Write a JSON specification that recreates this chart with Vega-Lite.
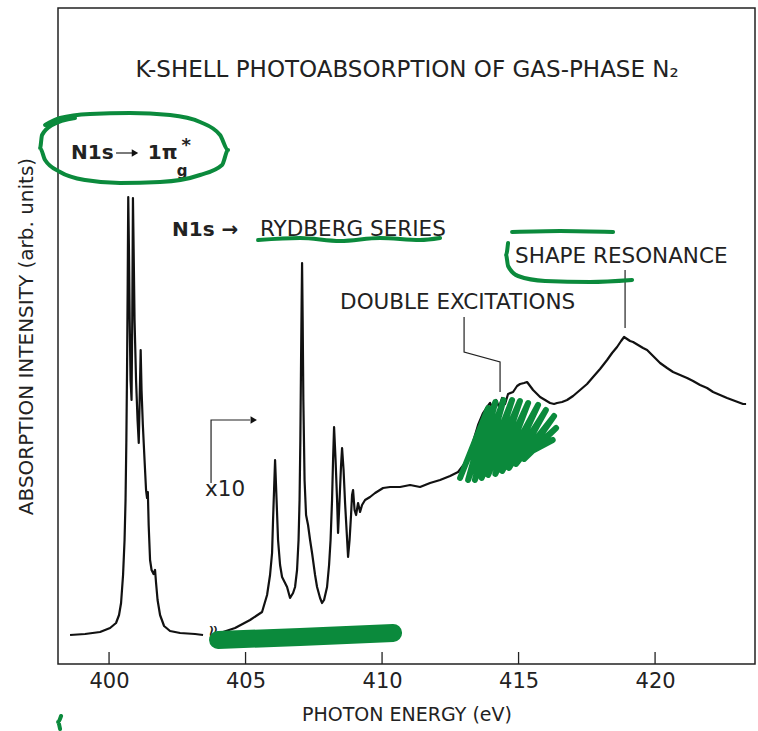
{
  "$schema": "https://vega.github.io/schema/vega-lite/v6.json",
  "width": 697,
  "height": 656,
  "autosize": {"type": "none"},
  "padding": {"left": 58, "top": 8, "right": 3, "bottom": 67},
  "background": "white",
  "config": {"view": {"stroke": "#222", "strokeWidth": 1.5}, "font": "DejaVu Sans"},
  "datasets": {
    "spec": [
      {"s":1,"e":398.571,"i":29},{"s":1,"e":399.121,"i":30},{"s":1,"e":399.670,"i":32},{"s":1,"e":400.037,"i":36},
      {"s":1,"e":400.256,"i":41},{"s":1,"e":400.366,"i":49},{"s":1,"e":400.440,"i":61},{"s":1,"e":400.513,"i":89},
      {"s":1,"e":400.568,"i":124},{"s":1,"e":400.604,"i":164},{"s":1,"e":400.634,"i":224},{"s":1,"e":400.659,"i":294},
      {"s":1,"e":400.681,"i":374},{"s":1,"e":400.703,"i":467},{"s":1,"e":400.729,"i":414},{"s":1,"e":400.755,"i":344},
      {"s":1,"e":400.788,"i":284},{"s":1,"e":400.824,"i":264},{"s":1,"e":400.850,"i":344},{"s":1,"e":400.875,"i":466},
      {"s":1,"e":400.901,"i":414},{"s":1,"e":400.934,"i":344},{"s":1,"e":400.989,"i":284},{"s":1,"e":401.044,"i":244},
      {"s":1,"e":401.088,"i":221},{"s":1,"e":401.121,"i":264},{"s":1,"e":401.158,"i":314},{"s":1,"e":401.190,"i":274},
      {"s":1,"e":401.238,"i":239},{"s":1,"e":401.300,"i":204},{"s":1,"e":401.355,"i":174},{"s":1,"e":401.392,"i":166},
      {"s":1,"e":401.421,"i":172},{"s":1,"e":401.451,"i":139},{"s":1,"e":401.502,"i":104},{"s":1,"e":401.557,"i":94},
      {"s":1,"e":401.630,"i":90},{"s":1,"e":401.685,"i":94},{"s":1,"e":401.722,"i":81},{"s":1,"e":401.777,"i":64},
      {"s":1,"e":401.868,"i":49},{"s":1,"e":402.015,"i":38},{"s":1,"e":402.234,"i":33},{"s":1,"e":402.601,"i":31},
      {"s":1,"e":403.150,"i":30},{"s":1,"e":403.443,"i":29},
      {"s":2,"e":404.176,"i":32},{"s":2,"e":404.615,"i":36},{"s":2,"e":405.165,"i":44},{"s":2,"e":405.604,"i":52},
      {"s":2,"e":405.788,"i":69},{"s":2,"e":405.897,"i":89},{"s":2,"e":405.971,"i":111},{"s":2,"e":406.007,"i":144},
      {"s":2,"e":406.044,"i":174},{"s":2,"e":406.081,"i":204},{"s":2,"e":406.136,"i":164},{"s":2,"e":406.190,"i":124},
      {"s":2,"e":406.264,"i":99},{"s":2,"e":406.337,"i":87},{"s":2,"e":406.447,"i":81},{"s":2,"e":406.520,"i":77},
      {"s":2,"e":406.630,"i":66},{"s":2,"e":406.740,"i":71},{"s":2,"e":406.813,"i":77},{"s":2,"e":406.886,"i":94},
      {"s":2,"e":406.941,"i":124},{"s":2,"e":406.978,"i":164},{"s":2,"e":407.007,"i":224},{"s":2,"e":407.033,"i":304},
      {"s":2,"e":407.055,"i":364},{"s":2,"e":407.070,"i":401},{"s":2,"e":407.092,"i":344},{"s":2,"e":407.117,"i":264},
      {"s":2,"e":407.161,"i":184},{"s":2,"e":407.216,"i":149},{"s":2,"e":407.289,"i":139},{"s":2,"e":407.363,"i":124},
      {"s":2,"e":407.436,"i":111},{"s":2,"e":407.546,"i":89},{"s":2,"e":407.619,"i":77},{"s":2,"e":407.729,"i":66},
      {"s":2,"e":407.802,"i":61},{"s":2,"e":407.875,"i":64},{"s":2,"e":407.985,"i":77},{"s":2,"e":408.059,"i":99},
      {"s":2,"e":408.114,"i":124},{"s":2,"e":408.168,"i":164},{"s":2,"e":408.205,"i":204},{"s":2,"e":408.242,"i":237},
      {"s":2,"e":408.297,"i":204},{"s":2,"e":408.352,"i":164},{"s":2,"e":408.388,"i":131},{"s":2,"e":408.443,"i":164},
      {"s":2,"e":408.498,"i":199},{"s":2,"e":408.535,"i":216},{"s":2,"e":408.590,"i":194},{"s":2,"e":408.645,"i":161},
      {"s":2,"e":408.700,"i":134},{"s":2,"e":408.755,"i":107},{"s":2,"e":408.810,"i":124},{"s":2,"e":408.864,"i":149},
      {"s":2,"e":408.901,"i":169},{"s":2,"e":408.938,"i":174},{"s":2,"e":408.993,"i":154},{"s":2,"e":409.048,"i":149},
      {"s":2,"e":409.121,"i":161},{"s":2,"e":409.194,"i":152},{"s":2,"e":409.267,"i":159},{"s":2,"e":409.377,"i":164},
      {"s":2,"e":409.560,"i":167},{"s":2,"e":409.744,"i":171},{"s":2,"e":410.037,"i":176},{"s":2,"e":410.293,"i":177},
      {"s":2,"e":410.659,"i":177},{"s":2,"e":411.026,"i":179},{"s":2,"e":411.392,"i":177},{"s":2,"e":411.758,"i":181},
      {"s":2,"e":412.125,"i":184},{"s":2,"e":412.491,"i":188},{"s":2,"e":412.784,"i":192},{"s":2,"e":413.040,"i":201},
      {"s":2,"e":413.297,"i":219},{"s":2,"e":413.516,"i":239},{"s":2,"e":413.700,"i":251},{"s":2,"e":413.846,"i":257},
      {"s":2,"e":413.956,"i":261},{"s":2,"e":414.066,"i":255},{"s":2,"e":414.176,"i":264},{"s":2,"e":414.286,"i":257},
      {"s":2,"e":414.396,"i":266},{"s":2,"e":414.505,"i":260},{"s":2,"e":414.615,"i":270},{"s":2,"e":414.799,"i":272},
      {"s":2,"e":414.945,"i":278},{"s":2,"e":415.055,"i":280},{"s":2,"e":415.201,"i":281},{"s":2,"e":415.311,"i":282},
      {"s":2,"e":415.421,"i":278},{"s":2,"e":415.531,"i":274},{"s":2,"e":415.678,"i":270},{"s":2,"e":415.788,"i":267},
      {"s":2,"e":415.971,"i":264},{"s":2,"e":416.154,"i":261},{"s":2,"e":416.300,"i":260},{"s":2,"e":416.410,"i":261},
      {"s":2,"e":416.593,"i":262},{"s":2,"e":416.777,"i":264},{"s":2,"e":416.996,"i":268},{"s":2,"e":417.253,"i":274},
      {"s":2,"e":417.509,"i":280},{"s":2,"e":417.729,"i":287},{"s":2,"e":417.985,"i":295},{"s":2,"e":418.242,"i":304},
      {"s":2,"e":418.425,"i":311},{"s":2,"e":418.608,"i":317},{"s":2,"e":418.755,"i":323},{"s":2,"e":418.864,"i":327},
      {"s":2,"e":418.974,"i":325},{"s":2,"e":419.084,"i":323},{"s":2,"e":419.194,"i":322},{"s":2,"e":419.377,"i":319},
      {"s":2,"e":419.560,"i":316},{"s":2,"e":419.707,"i":314},{"s":2,"e":419.927,"i":308},{"s":2,"e":420.183,"i":301},
      {"s":2,"e":420.440,"i":296},{"s":2,"e":420.659,"i":292},{"s":2,"e":420.916,"i":289},{"s":2,"e":421.172,"i":286},
      {"s":2,"e":421.392,"i":283},{"s":2,"e":421.648,"i":279},{"s":2,"e":421.905,"i":276},{"s":2,"e":422.125,"i":272},
      {"s":2,"e":422.381,"i":269},{"s":2,"e":422.637,"i":266},{"s":2,"e":422.930,"i":263},{"s":2,"e":423.223,"i":260},
      {"s":2,"e":423.333,"i":260}
    ],
    "ticks": [{"e":400},{"e":405},{"e":410},{"e":415},{"e":420}],
    "lead": [
      {"p":"a","k":1,"e":418.901,"i":394},{"p":"a","k":2,"e":418.901,"i":336},
      {"p":"b","k":1,"e":413.004,"i":347},{"p":"b","k":2,"e":413.004,"i":312},{"p":"b","k":3,"e":414.322,"i":302},{"p":"b","k":4,"e":414.322,"i":272},
      {"p":"c","k":1,"e":403.736,"i":181},{"p":"c","k":2,"e":403.736,"i":244},{"p":"c","k":3,"e":405.165,"i":244},
      {"p":"d","k":1,"e":400.256,"i":511},{"p":"d","k":2,"e":400.880,"i":511}
    ],
    "head": [{"e":405.300,"i":244},{"e":400.950,"i":511}],
    "title": [{"e":410.916,"i":594,"t":"K-SHELL PHOTOABSORPTION OF GAS-PHASE N₂"}],
    "bold": [{"e":398.608,"i":511,"t":"N1s"},{"e":401.420,"i":511,"t":"1π"},{"e":402.308,"i":434,"t":"N1s →"}],
    "reg": [
      {"e":405.531,"i":434,"t":"RYDBERG SERIES"},
      {"e":414.872,"i":407,"t":"SHAPE RESONANCE"},
      {"e":408.462,"i":361,"t":"DOUBLE EXCITATIONS"},
      {"e":403.516,"i":174,"t":"x10"}
    ],
    "sub": [{"e":402.680,"i":493,"t":"g"}],
    "star": [{"e":402.830,"i":518,"t":"*"}],
    "brk": [{"e":403.810,"i":32,"t":"≈"}],
    "grn": [
      {"p":"e","k":1,"e":397.656,"i":539},{"p":"e","k":2,"e":398.205,"i":546},{"p":"e","k":3,"e":399.304,"i":550},
      {"p":"e","k":4,"e":400.769,"i":551},{"p":"e","k":5,"e":402.234,"i":549},{"p":"e","k":6,"e":403.333,"i":542},
      {"p":"e","k":7,"e":404.066,"i":529},{"p":"e","k":8,"e":404.359,"i":514},{"p":"e","k":9,"e":404.139,"i":499},
      {"p":"e","k":10,"e":403.333,"i":489},{"p":"e","k":11,"e":401.868,"i":482},{"p":"e","k":12,"e":400.403,"i":481},
      {"p":"e","k":13,"e":399.121,"i":484},{"p":"e","k":14,"e":398.205,"i":492},{"p":"e","k":15,"e":397.656,"i":504},
      {"p":"e","k":16,"e":397.473,"i":516},{"p":"e","k":17,"e":397.546,"i":529},{"p":"e","k":18,"e":397.912,"i":539},
      {"p":"e","k":19,"e":398.755,"i":546},
      {"p":"u","k":1,"e":405.458,"i":424},{"p":"u","k":2,"e":406.996,"i":426},{"p":"u","k":3,"e":408.462,"i":423},
      {"p":"u","k":4,"e":409.927,"i":426},{"p":"u","k":5,"e":411.392,"i":424},{"p":"u","k":6,"e":412.125,"i":426},
      {"p":"t","k":1,"e":414.762,"i":432},{"p":"t","k":2,"e":416.520,"i":433},{"p":"t","k":3,"e":418.462,"i":432},
      {"p":"l","k":1,"e":414.615,"i":421},{"p":"l","k":2,"e":414.542,"i":409},{"p":"l","k":3,"e":414.615,"i":398},
      {"p":"l","k":4,"e":414.982,"i":388},{"p":"l","k":5,"e":415.971,"i":383},{"p":"l","k":6,"e":417.619,"i":382},
      {"p":"l","k":7,"e":419.158,"i":384},
      {"p":"m","k":1,"e":398.242,"i":-52},{"p":"m","k":2,"e":398.132,"i":-58},{"p":"m","k":3,"e":398.205,"i":-65}
    ],
    "scr": [
      {"k":1,"e":412.857,"i":186},{"k":2,"e":413.883,"i":256},{"k":3,"e":413.150,"i":184},{"k":4,"e":414.150,"i":262},
      {"k":5,"e":413.400,"i":184},{"k":6,"e":414.450,"i":264},{"k":7,"e":413.650,"i":186},{"k":8,"e":414.762,"i":264},
      {"k":9,"e":413.883,"i":189},{"k":10,"e":415.050,"i":263},{"k":11,"e":414.150,"i":190},{"k":12,"e":415.350,"i":261},
      {"k":13,"e":414.400,"i":193},{"k":14,"e":415.714,"i":259},{"k":15,"e":414.650,"i":196},{"k":16,"e":416.000,"i":254},
      {"k":17,"e":414.908,"i":200},{"k":18,"e":416.300,"i":248},{"k":19,"e":415.201,"i":205},{"k":20,"e":416.374,"i":236},
      {"k":21,"e":415.421,"i":212},{"k":22,"e":416.250,"i":224}
    ],
    "bar": [
      {"k":1,"e":403.993,"i":24},{"k":2,"e":406.996,"i":27},{"k":3,"e":410.403,"i":31}
    ]
  },
  "layer": [
    {
      "data": {"name": "spec"},
      "mark": {"type": "line", "color": "#111", "strokeWidth": 2.2, "strokeJoin": "round"},
      "encoding": {
        "x": {"field": "e", "type": "quantitative",
              "scale": {"domain": [398.13, 423.66], "nice": false, "zero": false},
              "axis": {"title": "PHOTON ENERGY (eV)", "values": [400, 405, 410, 415, 420], "format": "d",
                       "ticks": false, "tickSize": 0, "domain": false, "grid": false,
                       "labelFontSize": 21, "labelColor": "#222", "labelPadding": 6,
                       "titleFontSize": 19, "titleFontWeight": "normal", "titleColor": "#222", "titlePadding": 14}},
        "y": {"field": "i", "type": "quantitative",
              "scale": {"domain": [0, 656], "nice": false, "zero": false},
              "axis": {"title": "ABSORPTION INTENSITY (arb. units)", "labels": false, "ticks": false, "tickSize": 0,
                       "domain": false, "grid": false, "titleFontSize": 20, "titleFontWeight": "normal",
                       "titleColor": "#222", "titlePadding": 22}},
        "detail": {"field": "s"}
      }
    },
    {
      "data": {"name": "ticks"},
      "mark": {"type": "rule", "color": "#222", "strokeWidth": 1.3},
      "encoding": {"x": {"field": "e", "type": "quantitative"}, "y": {"datum": 0}, "y2": {"datum": 12}}
    },
    {
      "data": {"name": "lead"},
      "mark": {"type": "line", "color": "#222", "strokeWidth": 1.2},
      "encoding": {"x": {"field": "e", "type": "quantitative"}, "y": {"field": "i", "type": "quantitative"},
                   "detail": {"field": "p"}, "order": {"field": "k"}}
    },
    {
      "data": {"name": "head"},
      "mark": {"type": "point", "shape": "triangle-right", "filled": true, "color": "#111", "size": 55, "opacity": 1},
      "encoding": {"x": {"field": "e", "type": "quantitative"}, "y": {"field": "i", "type": "quantitative"}}
    },
    {
      "data": {"name": "title"},
      "mark": {"type": "text", "fontSize": 23, "align": "center", "baseline": "middle", "color": "#222"},
      "encoding": {"x": {"field": "e", "type": "quantitative"}, "y": {"field": "i", "type": "quantitative"}, "text": {"field": "t"}}
    },
    {
      "data": {"name": "bold"},
      "mark": {"type": "text", "fontSize": 20, "fontWeight": "bold", "align": "left", "baseline": "middle", "color": "#222"},
      "encoding": {"x": {"field": "e", "type": "quantitative"}, "y": {"field": "i", "type": "quantitative"}, "text": {"field": "t"}}
    },
    {
      "data": {"name": "reg"},
      "mark": {"type": "text", "fontSize": 21.5, "align": "left", "baseline": "middle", "color": "#222"},
      "encoding": {"x": {"field": "e", "type": "quantitative"}, "y": {"field": "i", "type": "quantitative"}, "text": {"field": "t"}}
    },
    {
      "data": {"name": "sub"},
      "mark": {"type": "text", "fontSize": 15, "fontWeight": "bold", "align": "center", "baseline": "middle", "color": "#222"},
      "encoding": {"x": {"field": "e", "type": "quantitative"}, "y": {"field": "i", "type": "quantitative"}, "text": {"field": "t"}}
    },
    {
      "data": {"name": "star"},
      "mark": {"type": "text", "fontSize": 18, "fontWeight": "bold", "align": "center", "baseline": "middle", "color": "#222"},
      "encoding": {"x": {"field": "e", "type": "quantitative"}, "y": {"field": "i", "type": "quantitative"}, "text": {"field": "t"}}
    },
    {
      "data": {"name": "brk"},
      "mark": {"type": "text", "fontSize": 20, "angle": 90, "align": "center", "baseline": "middle", "color": "#222"},
      "encoding": {"x": {"field": "e", "type": "quantitative"}, "y": {"field": "i", "type": "quantitative"}, "text": {"field": "t"}}
    },
    {
      "data": {"name": "grn"},
      "mark": {"type": "line", "color": "#0b8a3c", "strokeWidth": 4, "strokeCap": "round", "strokeJoin": "round", "interpolate": "monotone"},
      "encoding": {"x": {"field": "e", "type": "quantitative"}, "y": {"field": "i", "type": "quantitative"},
                   "detail": {"field": "p"}, "order": {"field": "k"}}
    },
    {
      "data": {"name": "scr"},
      "mark": {"type": "line", "color": "#0b8a3c", "strokeWidth": 6, "strokeCap": "round", "strokeJoin": "round"},
      "encoding": {"x": {"field": "e", "type": "quantitative"}, "y": {"field": "i", "type": "quantitative"}, "order": {"field": "k"}}
    },
    {
      "data": {"name": "bar"},
      "mark": {"type": "line", "color": "#0b8a3c", "strokeWidth": 18, "strokeCap": "round", "strokeJoin": "round"},
      "encoding": {"x": {"field": "e", "type": "quantitative"}, "y": {"field": "i", "type": "quantitative"}, "order": {"field": "k"}}
    }
  ]
}
